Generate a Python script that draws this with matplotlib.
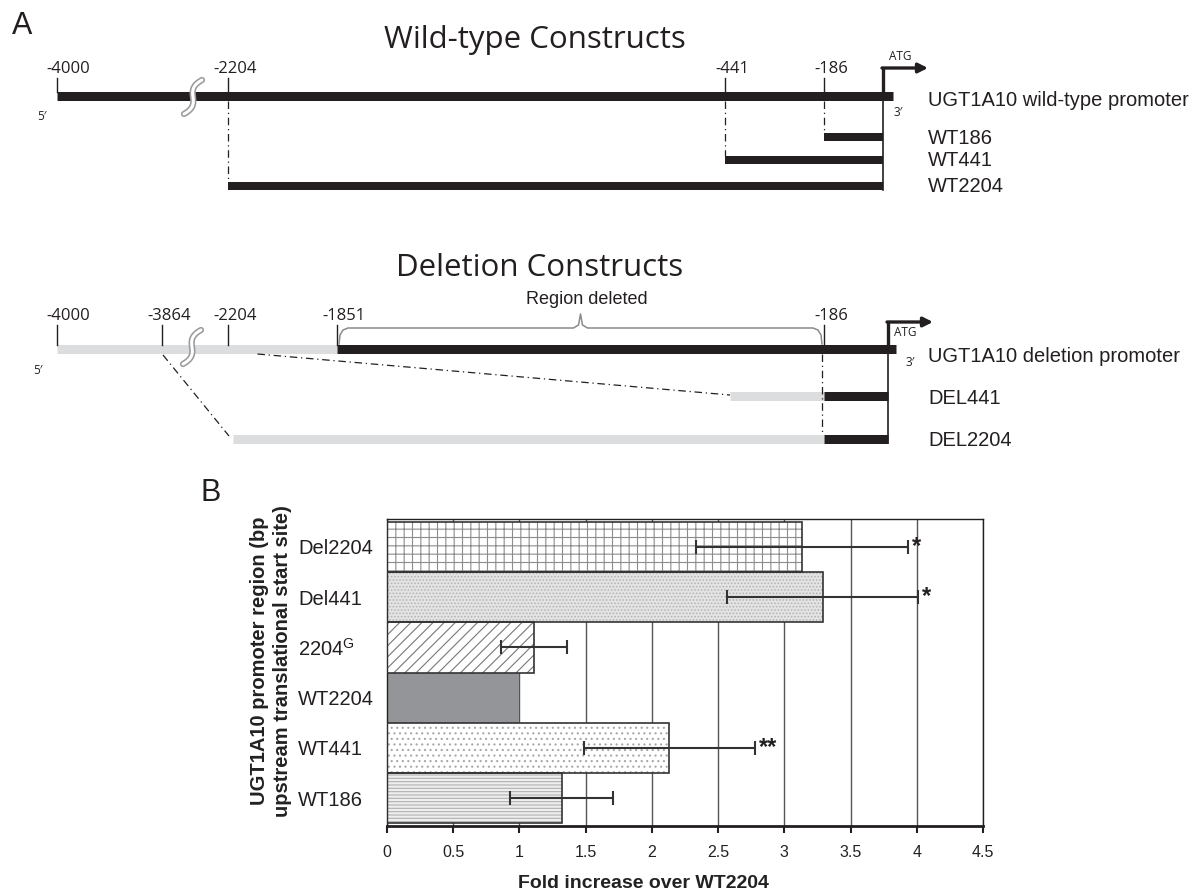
import numpy as np
import matplotlib
matplotlib.use('Agg')
import matplotlib.pyplot as plt

plt.rcParams['font.family'] = ['Liberation Sans', 'DejaVu Sans']
plt.rcParams['mathtext.fontset'] = 'custom'
plt.rcParams['mathtext.rm'] = 'Liberation Sans'
plt.rcParams['hatch.linewidth'] = 0.8

# ---- panel B data (top row first) ----
constructs = ['Del2204', 'Del441', '2204$^{\\mathrm{G}}$', 'WT2204', 'WT441', 'WT186']
fold = [3.13, 3.29, 1.11, 1.00, 2.13, 1.32]
sem = [0.80, 0.72, 0.25, 0.0, 0.645, 0.39]
signif = ['*', '*', '', '', '**', '']
x_ticks = [0, 0.5, 1, 1.5, 2, 2.5, 3, 3.5, 4, 4.5]
x_ticklabels = ['0', '0.5', '1', '1.5', '2', '2.5', '3', '3.5', '4', '4.5']

# ---- panel A data (bp upstream of ATG) ----
wt_marks = [-4000, -2204, -441, -186]
wt_names = ['WT186', 'WT441', 'WT2204']
wt_starts = [-186, -441, -2204]
del_marks = [-4000, -3864, -2204, -1851, -186]
del_names = ['DEL441', 'DEL2204']
del_starts = [-441, -2204]
del_junction = -186
deleted_region = [-1851, -186]

# schematic scale of the diagram (not linear, the line is broken)
bp_anchor = [-4000, -3864, -2204, -1851, -441, -186, 0]
px_anchor = [57, 162, 228, 337, 725, 824, 885]
def sx(bp):
    return np.interp(bp, bp_anchor, px_anchor)

BLK = '#231f20'
GRY = '#dcdddf'
OS = 'Open Sans'

fig = plt.figure(figsize=(11.96, 8.94), dpi=100)
axA = fig.add_axes([0, 0, 1, 1])
axA.set_xlim(0, 1196)
axA.set_ylim(894, 0)
axA.axis('off')
axA.patch.set_alpha(0)

def bar(x0, x1, y, h, c):
    axA.plot([x0, x1], [y, y], color=c, lw=h * 0.72, solid_capstyle='butt')

def dashdot(x0, y0, x1, y1):
    axA.plot([x0, x1], [y0, y1], color=BLK, lw=0.9, ls=(0, (6, 3, 1, 3)))

def squiggle(xc, yc):
    t = np.linspace(-1, 1, 40)
    xs = xc - 11 * t ** 3 + 2 * t
    ys = yc + 17 * t
    axA.plot(xs, ys, color='#9a9a9a', lw=4.5, solid_capstyle='round')
    axA.plot(xs, ys, color='white', lw=2.2, solid_capstyle='round')

def atg_arrow(x, ybar, ytop, lab_xy):
    axA.plot([x, x], [ybar, ytop], color=BLK, lw=2.4, solid_capstyle='butt')
    axA.annotate('', xy=(x + 45, ytop), xytext=(x - 1, ytop),
                 arrowprops=dict(arrowstyle='-|>', lw=2.4, color=BLK,
                                 mutation_scale=14, shrinkA=0, shrinkB=0))
    axA.text(lab_xy[0], lab_xy[1], 'ATG', fontsize=8.5, family=OS,
             ha='left', va='center', color=BLK)

def mark_label(m, y):
    off = 11 if m == -4000 else 7
    axA.text(sx(m) + off, y, str(m), fontsize=12, family=OS,
             ha='center', va='center', color=BLK)

axA.text(12, 26, 'A', fontsize=22, ha='left', va='center', color=BLK)
axA.text(211, 493, 'B', fontsize=22, ha='center', va='center', color=BLK)

# ---------- wild-type constructs ----------
axA.text(535, 40, 'Wild-type Constructs', fontsize=22.5, family=OS,
         ha='center', va='center', color=BLK)
y_prom = 96
atg = sx(0)
bar(sx(-4000), atg + 8, y_prom, 9, BLK)
squiggle(193, 97)
for m in wt_marks:
    axA.plot([sx(m), sx(m)], [78, y_prom - 4], color=BLK, lw=1)
    mark_label(m, 69)
atg_arrow(atg - 2, y_prom - 4, 68, (atg + 4, 56))
axA.text(atg + 8, 113, '3\u2032', fontsize=8.5, family=OS, ha='left',
         va='center', color=BLK)
axA.text(37, 117, '5\u2032', fontsize=8.5, family=OS, ha='left',
         va='center', color=BLK)
axA.text(928, 100, 'UGT1A10 wild-type promoter', fontsize=14.5,
         ha='left', va='center', color=BLK)
wt_rows = [137, 160, 186]
for name, s, yr in zip(wt_names, wt_starts, wt_rows):
    bar(sx(s), atg - 2, yr, 8, BLK)
    dashdot(sx(s), y_prom + 5, sx(s), yr - 4)
    axA.text(928, yr + 1, name, fontsize=14.5, ha='left', va='center',
             color=BLK)
axA.plot([atg - 2, atg - 2], [y_prom, wt_rows[-1] + 4], color=BLK, lw=1.2)

# ---------- deletion constructs ----------
axA.text(540, 268, 'Deletion Constructs', fontsize=22.5, family=OS,
         ha='center', va='center', color=BLK)
y_del = 349
bar(sx(-4000), sx(deleted_region[0]), y_del, 9, GRY)
bar(sx(deleted_region[0]), atg + 11, y_del, 9, BLK)
squiggle(192, 347)
for m in del_marks:
    axA.plot([sx(m), sx(m)], [325, y_del - 4], color=BLK, lw=1)
    mark_label(m, 316)
atg_arrow(atg + 3, y_del - 4, 322, (atg + 9, 333))
axA.text(atg + 20, 363, '3\u2032', fontsize=8.5, family=OS, ha='left',
         va='center', color=BLK)
axA.text(33, 370, '5\u2032', fontsize=8.5, family=OS, ha='left',
         va='center', color=BLK)
axA.text(928, 356, 'UGT1A10 deletion promoter', fontsize=14.5,
         ha='left', va='center', color=BLK)

# bracket over the deleted region
bx0, bx1 = sx(deleted_region[0]) + 2, sx(deleted_region[1]) - 2
bm = (bx0 + bx1) / 2
bxs = [bx0, bx0 + 1, bx0 + 4, bx0 + 9, bm - 7, bm - 2, bm, bm + 2, bm + 7,
       bx1 - 9, bx1 - 4, bx1 - 1, bx1]
bys = [344, 335, 330, 328, 328, 325, 314, 325, 328, 328, 330, 335, 344]
axA.plot(bxs, bys, color='#8a8a8a', lw=1.1)
axA.text(bm + 6, 300, 'Region deleted', fontsize=13, ha='center',
         va='center', color=BLK)

del_rows = [396, 439]
for name, s, yr in zip(del_names, del_starts, del_rows):
    bar(sx(s) + 5, sx(del_junction), yr, 9, GRY)
    bar(sx(del_junction), atg + 3, yr, 9, BLK)
    axA.text(928, yr + 2, name, fontsize=14.5, ha='left', va='center',
             color=BLK)
dashdot(sx(-2204) + 0.27 * (sx(-1851) - sx(-2204)), y_del + 5,
        sx(del_starts[0]) + 5, del_rows[0] - 1)
dashdot(sx(-3864) + 1, y_del + 6, sx(del_starts[1]) + 1, del_rows[1] - 3)
dashdot(sx(del_junction) - 2, y_del + 5, sx(del_junction) - 2, del_rows[1] - 4)
axA.plot([atg + 3, atg + 3], [y_del, del_rows[1] + 4], color=BLK, lw=1.2)

# ---------- panel B: bar chart ----------
axB = fig.add_axes([387 / 1196, 1 - 826 / 894, (983 - 387) / 1196,
                    (826 - 519) / 894])
ypos = np.arange(len(constructs))[::-1]
styles = [
    dict(fc='white', hc='#8c8c8c', hatch='++'),
    dict(fc='#e4e4e4', hc='#b5b5b5', hatch='.....'),
    dict(fc='white', hc='#777777', hatch='///'),
    dict(fc='#939598', hc=None, hatch=None),
    dict(fc='white', hc='#a8a8a8', hatch='...'),
    dict(fc='#eeeeee', hc='#b0b0b0', hatch='-----'),
]
for v, y, st in zip(fold, ypos, styles):
    if st['hatch']:
        axB.barh(y, v, height=1.0, color=st['fc'], edgecolor=st['hc'],
                 hatch=st['hatch'], lw=0, zorder=2)
        axB.barh(y, v, height=1.0, fill=False, edgecolor='#333333',
                 lw=1.2, zorder=3)
    else:
        axB.barh(y, v, height=1.0, color=st['fc'], lw=0, zorder=2)

has_err = [s > 0 for s in sem]
axB.errorbar(np.array(fold)[has_err], ypos[has_err],
             xerr=np.array(sem)[has_err], fmt='none', ecolor='#333333',
             elinewidth=1.5, capsize=5, capthick=1.5, zorder=4)
for v, e, y, s in zip(fold, sem, ypos, signif):
    if s:
        axB.text(v + e + 0.03, y, s, fontsize=17, fontweight='bold',
                 ha='left', va='center', color=BLK, zorder=5)

axB.set_xlim(0, 4.5)
axB.set_ylim(-0.55, 5.55)
axB.set_xticks(x_ticks)
axB.set_xticklabels(x_ticklabels, fontsize=11.5, color='#222222')
axB.set_yticks(ypos)
axB.set_yticklabels(constructs, fontsize=14.5, ha='left', color=BLK)
axB.tick_params(axis='y', length=0, pad=64)
axB.tick_params(axis='x', direction='out', length=5, width=1.5, pad=9,
                color=BLK)
axB.grid(axis='x', color='#555555', lw=1)
axB.set_axisbelow(True)
for side in ['top', 'right', 'left']:
    axB.spines[side].set_linewidth(1)
    axB.spines[side].set_color(BLK)
axB.spines['bottom'].set_linewidth(2)
axB.spines['bottom'].set_color(BLK)
axB.set_xlabel('Fold increase over WT2204', fontsize=14,
               fontweight='bold', color='#222222')
axB.xaxis.set_label_coords(0.43, -0.16)

axA.text(271, 661, 'UGT1A10 promoter region (bp\nupstream translational start site)',
         rotation=90, fontsize=14.5, fontweight='bold', ha='center',
         va='center', multialignment='center', linespacing=1.3, color='#222222')

fig.savefig('out.png', dpi=100)
